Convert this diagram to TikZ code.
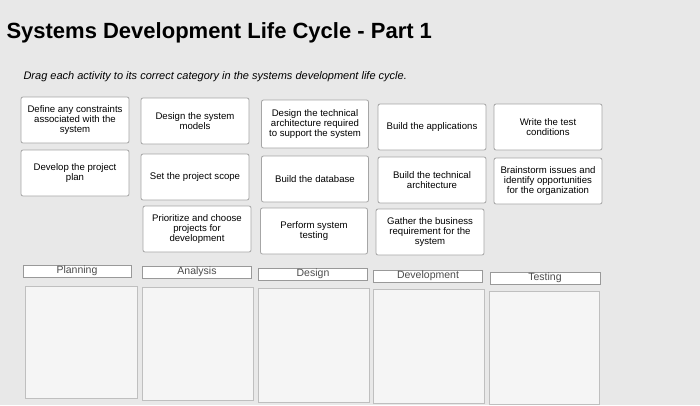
\documentclass[tikz,border=0pt]{standalone}
\usepackage{fontspec}
\setmainfont{Liberation Sans}
\begin{document}
\begin{tikzpicture}[x=1pt,y=-1pt,
  card/.style={draw=gray!70,line width=0.8pt,rounded corners=2pt,fill=white,align=center,font=\fontsize{9.6}{10}\selectfont,inner sep=1pt},
  cat/.style={draw=gray!80,line width=0.8pt,fill=white,font=\fontsize{10.5}{11}\selectfont,text=gray!60!black,inner sep=0pt},
  drop/.style={draw=gray!50,line width=0.6pt,fill=gray!8}]
\useasboundingbox (0,0) rectangle (700,405);
\fill[gray!18] (0,0) rectangle (700,405);
\node[anchor=west,font=\bfseries\fontsize{22}{24}\selectfont] (title) at (3,33) {Systems Development Life Cycle - Part 1};
\node[anchor=west,font=\itshape\fontsize{11}{12}\selectfont] (sub) at (20,77) {Drag each activity to its correct category in the systems development life cycle.};
\node[card,minimum width=108,minimum height=46] (a1) at (75,120) {Define any constraints\\associated with the\\system};
\node[card,minimum width=108,minimum height=46] (a2) at (195,121) {Design the system\\models};
\node[card,minimum width=107,minimum height=48] (a3) at (315,124) {Design the technical\\architecture required\\to support the system};
\node[card,minimum width=108,minimum height=46] (a4) at (432,127) {Build the applications};
\node[card,minimum width=108,minimum height=46] (a5) at (548,127) {Write the test\\conditions};
\node[card,minimum width=108,minimum height=46] (b1) at (75,173) {Develop the project\\plan};
\node[card,minimum width=108,minimum height=46] (b2) at (195,177) {Set the project scope};
\node[card,minimum width=107,minimum height=46] (b3) at (315,179) {Build the database};
\node[card,minimum width=108,minimum height=46] (b4) at (432,180) {Build the technical\\architecture};
\node[card,minimum width=108,minimum height=46] (b5) at (548,181) {Brainstorm issues and\\identify opportunities\\for the organization};
\node[card,minimum width=108,minimum height=46] (r1) at (197,229) {Prioritize and choose\\projects for\\development};
\node[card,minimum width=107,minimum height=46] (r2) at (314,231) {Perform system\\testing};
\node[card,minimum width=108,minimum height=46] (r3) at (430,232) {Gather the business\\requirement for the\\system};
\node[cat,minimum width=108,minimum height=12] (p) at (77,271) {Planning};
\node[cat,minimum width=109,minimum height=12] (an) at (197,272) {Analysis};
\node[cat,minimum width=109,minimum height=12] (de) at (313,274) {Design};
\node[cat,minimum width=109,minimum height=12] (dv) at (428,276) {Development};
\node[cat,minimum width=110,minimum height=12] (te) at (545,278) {Testing};
\draw[drop] (25,286) rectangle (137,398);
\draw[drop] (142,287) rectangle (253,400);
\draw[drop] (258,288) rectangle (369,402);
\draw[drop] (373,289) rectangle (484,403);
\draw[drop] (489,291) rectangle (599,404);
\end{tikzpicture}
\end{document}
